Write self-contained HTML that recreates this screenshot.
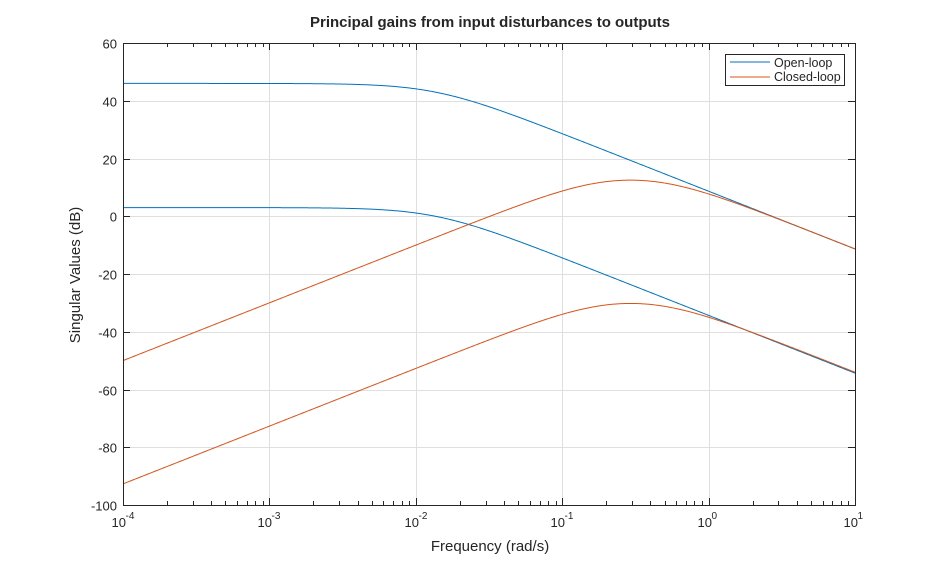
<!DOCTYPE html>
<html><head><meta charset="utf-8"><style>
body{margin:0;background:#fff;}
svg{display:block;font-family:"Liberation Sans",Arial,sans-serif;}
</style></head><body>
<svg id="s" width="946" height="569" viewBox="0 0 946 569" xmlns="http://www.w3.org/2000/svg">
<rect width="946" height="569" fill="#fff"/>
<g id="grid"></g>
<g id="curves" fill="none" stroke-width="1"></g>
<rect x="123.5" y="43.5" width="732" height="462" fill="none" stroke="#262626" stroke-width="1"/>
<g id="ticks" stroke="#262626" stroke-width="1"></g>
<g fill="#262626" font-size="13" text-anchor="end" id="ylab"></g>
<g fill="#262626" font-size="13" id="xlab"></g>
<text x="490" y="27" text-anchor="middle" font-size="15" font-weight="bold" fill="#262626">Principal gains from input disturbances to outputs</text>
<text x="490" y="551" text-anchor="middle" font-size="15" fill="#262626">Frequency (rad/s)</text>
<text transform="translate(80,275) rotate(-90)" text-anchor="middle" font-size="15" fill="#262626">Singular Values (dB)</text>
<rect x="725.5" y="54.5" width="119" height="31" fill="#fff" stroke="#262626"/>
<line x1="730" y1="62" x2="770" y2="62" stroke="#0072BD"/>
<line x1="730" y1="77" x2="770" y2="77" stroke="#D95319"/>
<text x="774" y="67" font-size="12.5" fill="#262626">Open-loop</text>
<text x="774" y="81" font-size="12.5" fill="#262626">Closed-loop</text>
</svg>
<script>
var NS="http://www.w3.org/2000/svg";
var X0=123,X1=855,Y0=43,Y1=505;
function xp(w){return X0+(Math.log10(w)+4)*(X1-X0)/5;}
function yp(d){return Y0+(60-d)*(Y1-Y0)/160;}
function el(p,t,a){var e=document.createElementNS(NS,t);for(var k in a)e.setAttribute(k,a[k]);document.getElementById(p).appendChild(e);return e;}
for(var i=0;i<=5;i++){var x=Math.round(xp(Math.pow(10,i-4)))+0.5;
 el("grid","line",{x1:x,x2:x,y1:Y0,y2:Y1,stroke:"#dfdfdf"});
 var t=el("xlab","text",{x:x-12,y:527});t.textContent="10";
 var s=el("xlab","text",{x:x+2,y:519,"font-size":"10"});s.textContent=(i-4).toString();
}
for(var d=-100;d<=60;d+=20){var y=Math.round(yp(d))+0.5;
 el("grid","line",{x1:X0,x2:X1,y1:y,y2:y,stroke:"#dfdfdf"});
 el("ticks","line",{x1:X0,x2:X0+7,y1:y,y2:y});el("ticks","line",{x1:X1-7,x2:X1,y1:y,y2:y});
 var t=el("ylab","text",{x:117,y:y+5});t.textContent=d;
}
for(var e=-4;e<=0;e++)for(var m=1;m<10;m++){var x=Math.round(xp(m*Math.pow(10,e)))+0.5;var L=m==1?7:4;
 el("ticks","line",{x1:x,x2:x,y1:Y1-L,y2:Y1});el("ticks","line",{x1:x,x2:x,y1:Y0,y2:Y0+L});}
var x=X1+0.5;el("ticks","line",{x1:x,x2:x,y1:Y1-7,y2:Y1});
function ol(w,off){return 46+off-10*Math.log10(1+Math.pow(w/0.0136,2));}
function cl(w,off){var K=2.72,w0=0.293,z=1.1;var re=w0*w0-w*w,im=2*z*w0*w;return 20*Math.log10(K*w/Math.sqrt(re*re+im*im))+off;}
function path(f,off,c){var d="";for(var i=0;i<=600;i++){var w=Math.pow(10,-4+5*i/600);d+=(i?"L":"M")+xp(w).toFixed(2)+","+yp(f(w,off)).toFixed(2);}el("curves","path",{d:d,stroke:c});}
path(ol,0,"#0072BD");path(ol,-43,"#0072BD");path(cl,0,"#D95319");path(cl,-42.7,"#D95319");
</script>
</body></html>
